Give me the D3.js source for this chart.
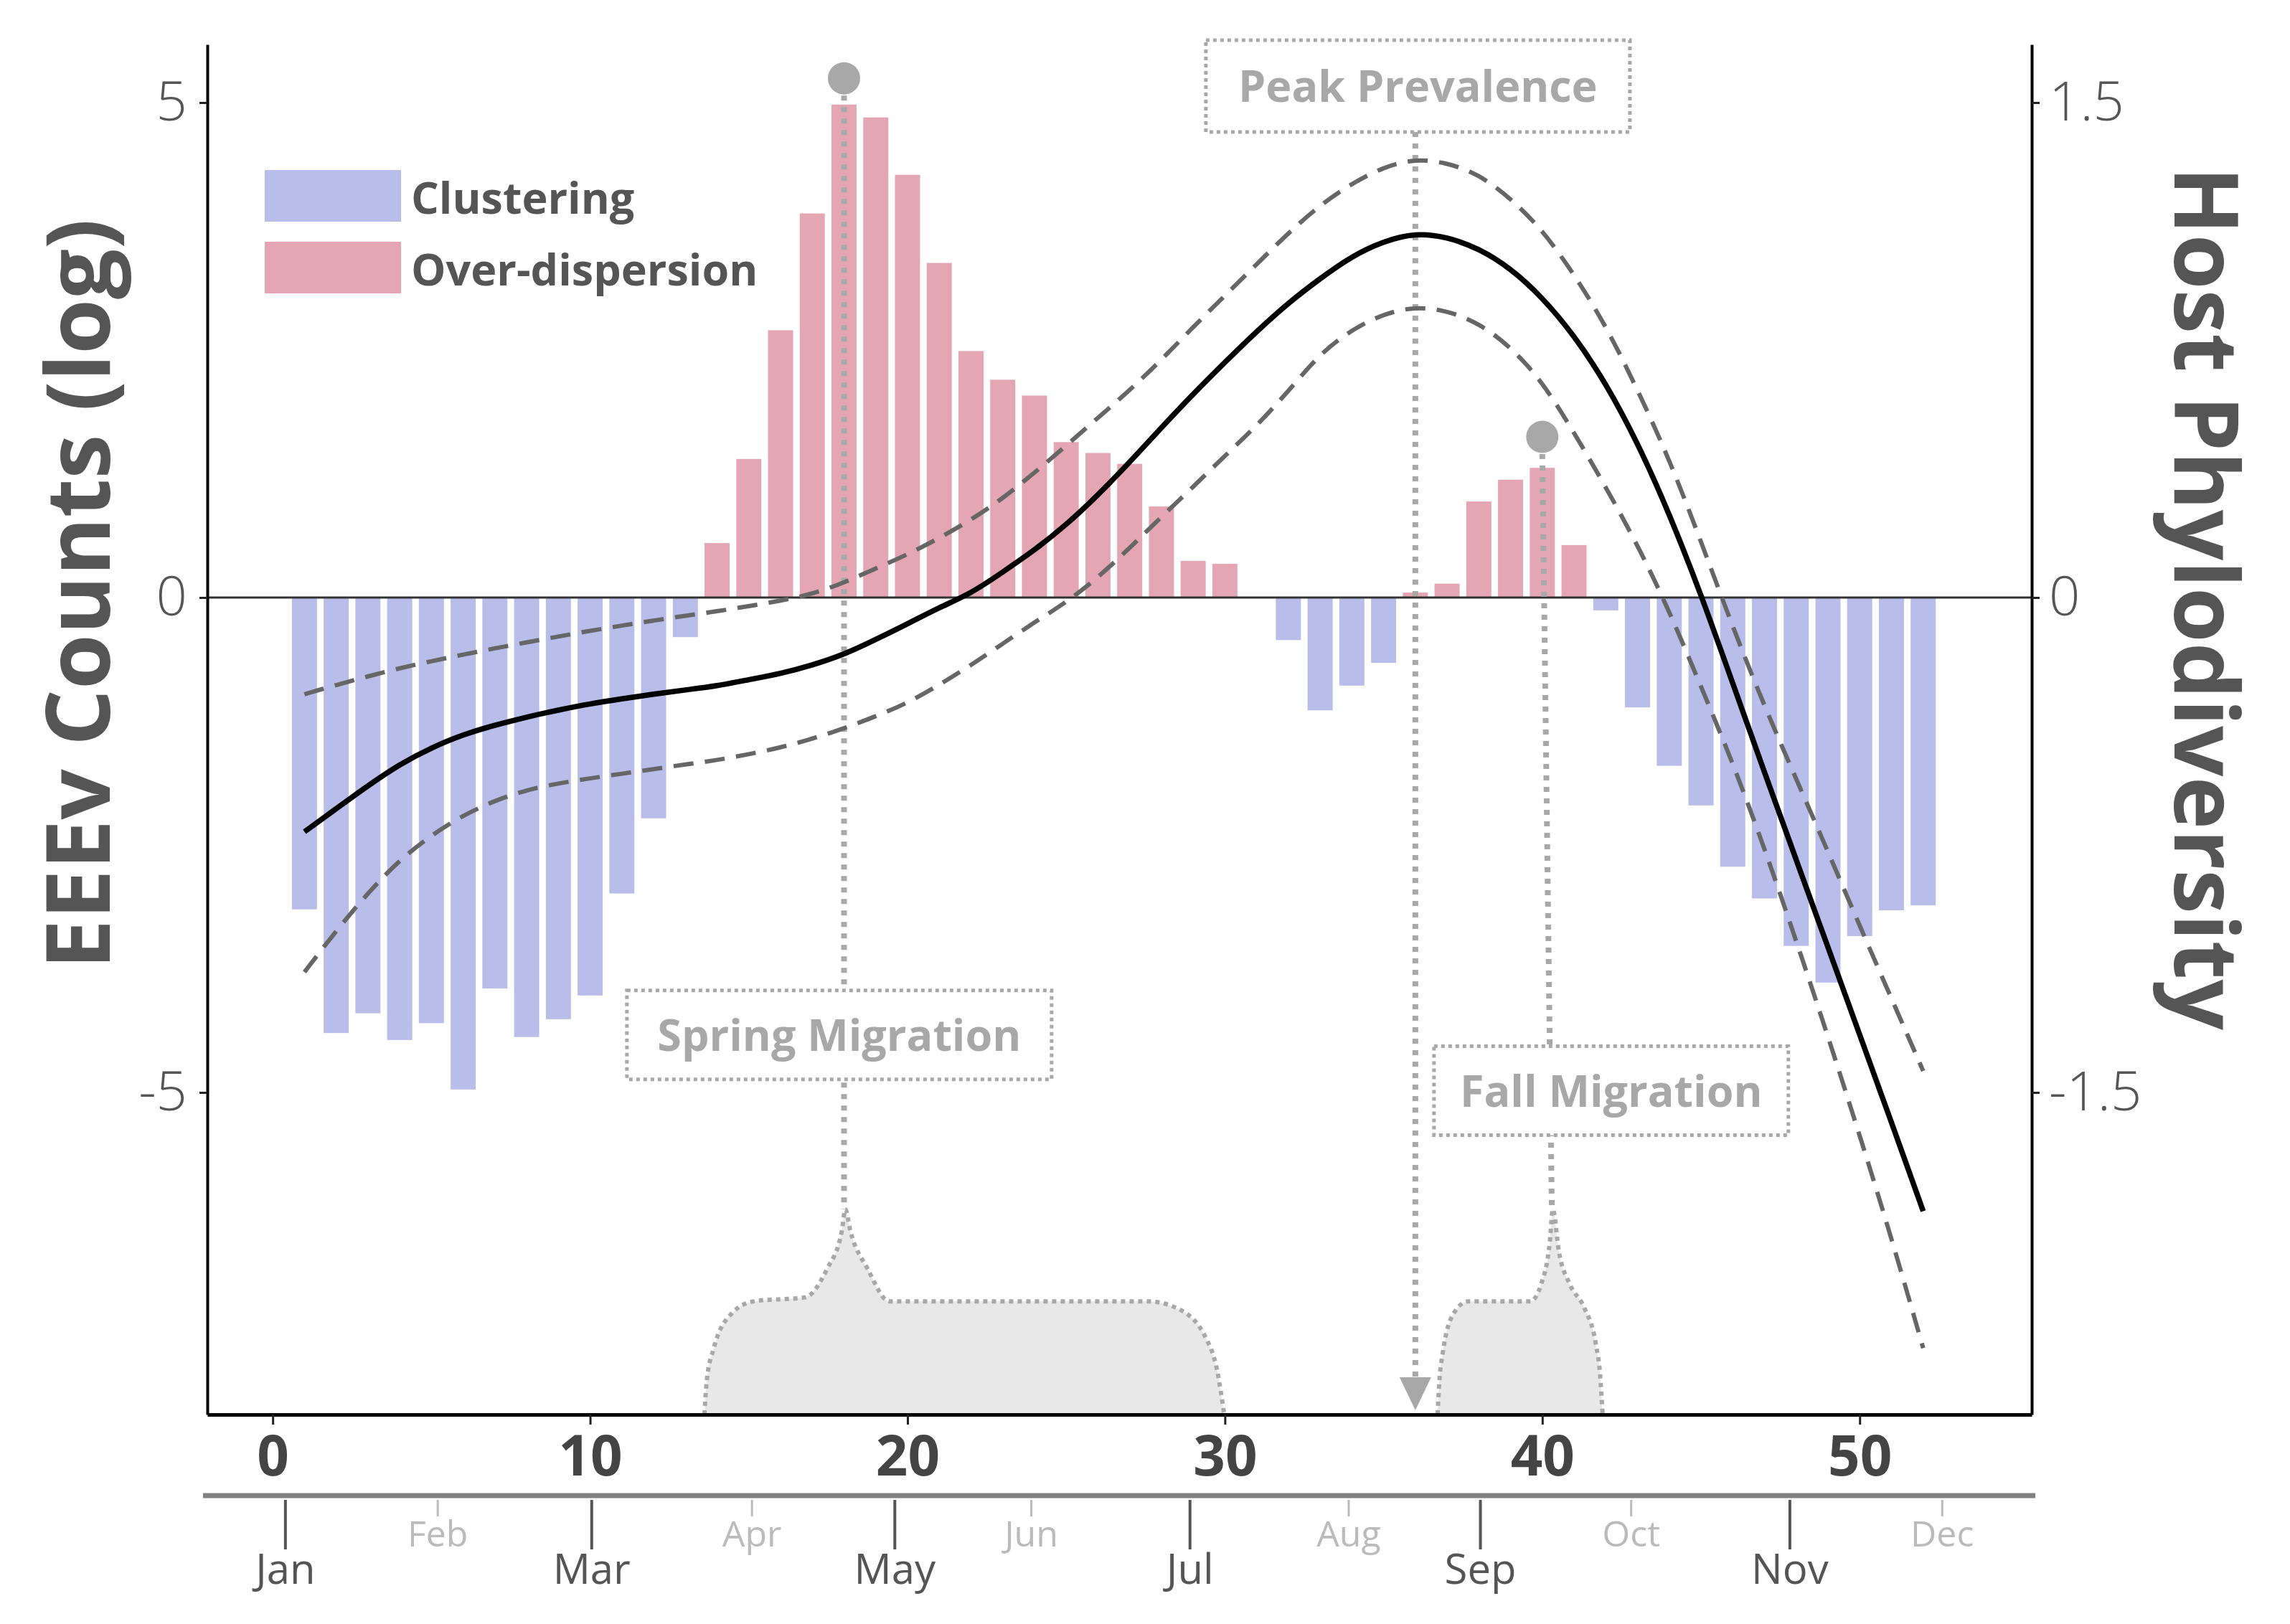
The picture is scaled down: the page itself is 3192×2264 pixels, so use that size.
<!DOCTYPE html>
<html>
<head>
<meta charset="utf-8">
<script src="https://cdnjs.cloudflare.com/ajax/libs/d3/7.8.5/d3.min.js"></script>
<style>
  body { margin: 0; background: #fff; }
  svg { display: block; }
</style>
</head>
<body>
<div id="chart"></div>
<script>
// ---- data ----
const weeks = [1,2,3,4,5,6,7,8,9,10,11,12,13,14,15,16,17,18,19,20,21,22,23,24,25,26,
               27,28,29,30,31,32,33,34,35,36,37,38,39,40,41,42,43,44,45,46,47,48,49,50,51,52]

// EEEv counts (log), negative = clustering, positive = over-dispersion
const counts = [-3.15,-4.4,-4.2,-4.47,-4.3,-4.97,-3.95,-4.44,-4.26,-4.02,
                -2.99,-2.23,-0.4,0.55,1.4,2.7,3.88,4.98,4.85,4.27,
                3.38,2.49,2.2,2.04,1.57,1.46,1.35,0.92,0.37,0.34,
                0,-0.43,-1.14,-0.89,-0.66,0.05,0.14,0.97,1.19,1.31,
                0.53,-0.13,-1.11,-1.7,-2.1,-2.72,-3.04,-3.52,-3.89,-3.42,
                -3.16,-3.11]

// host phylodiversity fit and its band (right axis)
const phyloFit = [-0.71,-0.64,-0.57,-0.505,-0.455,-0.415,-0.387,-0.362,-0.341,-0.322,
                  -0.307,-0.293,-0.28,-0.268,-0.249,-0.231,-0.205,-0.173,-0.127,-0.08,
                  -0.03,0.012,0.077,0.143,0.22,0.31,0.41,0.515,0.617,0.713,
                  0.807,0.893,0.967,1.035,1.08,1.105,1.093,1.058,0.998,0.91,
                  0.795,0.65,0.47,0.255,0.01,-0.26,-0.53,-0.795,-1.06,-1.325,
                  -1.59,-1.86]
const phyloUpper = [-0.293,-0.265,-0.239,-0.214,-0.193,-0.173,-0.154,-0.136,-0.118,-0.101,
                    -0.085,-0.07,-0.055,-0.042,-0.026,-0.01,0.01,0.045,0.088,0.13,
                    0.18,0.235,0.3,0.378,0.46,0.545,0.628,0.72,0.82,0.915,
                    1.01,1.105,1.19,1.255,1.305,1.33,1.318,1.283,1.21,1.115,
                    0.98,0.825,0.63,0.42,0.17,-0.09,-0.33,-0.55,-0.77,-0.995,
                    -1.215,-1.435]
const phyloLower = [-1.135,-1.01,-0.895,-0.795,-0.72,-0.66,-0.615,-0.583,-0.563,-0.548,
                    -0.534,-0.52,-0.506,-0.493,-0.475,-0.455,-0.428,-0.397,-0.36,-0.32,
                    -0.265,-0.205,-0.14,-0.075,-0.015,0.06,0.15,0.245,0.335,0.43,
                    0.52,0.625,0.74,0.812,0.86,0.882,0.87,0.832,0.76,0.655,
                    0.5,0.335,0.16,-0.04,-0.27,-0.5,-0.76,-1.04,-1.33,-1.63,
                    -1.94,-2.275]

const weekTicks = [0,10,20,30,40,50]
const leftTicks = [-5,0,5]
const rightTicks = [-1.5,0,1.5]
const months = ["Jan","Feb","Mar","Apr","May","Jun","Jul","Aug","Sep","Oct","Nov","Dec"]
const monthWeeks = [0.4,5.2,10.05,15.1,19.6,23.9,28.9,33.9,38.05,42.8,47.8,52.6]

// migration outlines, [week, log count]
const springBump = [[13.6,-8.254],[13.68,-7.9],[13.9,-7.58],[14.47,-7.23],[15.16,-7.11],
                    [16.77,-7.07],[17.47,-6.78],[17.93,-6.4],[18.04,-6.18],[18.2,-6.4],
                    [18.74,-6.78],[19.43,-7.11],[27.57,-7.11],[28.49,-7.18],[29.4,-7.48],
                    [29.75,-7.8],[29.98,-8.254]]
const fallBump = [[36.7,-8.254],[36.76,-7.9],[36.86,-7.64],[37.21,-7.23],[37.67,-7.11],
                  [39.62,-7.11],[39.96,-6.94],[40.24,-6.5],[40.33,-6.18],[40.53,-6.62],
                  [40.87,-6.94],[41.33,-7.18],[41.68,-7.53],[41.82,-7.85],[41.9,-8.254]]

const springPeak = 18, fallPeak = 40, prevalencePeak = 36

// ---- layout ----
const W = 3192, H = 2264
const blue = "#b9bde9", pink = "#e5a6b3", annot = "#a8a8a8"
const font = "'Open Sans', 'DejaVu Sans', sans-serif"

const x = d3.scaleLinear().domain([-2.06, 55.42]).range([289, 2832])
const y = d3.scaleLinear().domain([-8.254, 5.587]).range([1972, 62])
const yR = d3.scaleLinear().domain([-8.254 * 0.3, 5.587 * 0.3]).range([1972, 62])
const bw = (x(1) - x(0)) * 0.79

const svg = d3.select("#chart").append("svg")
    .attr("width", W)
    .attr("height", H)
    .style("background-color", "#fff")

// bars
const barData = weeks.map((w, i) => ({ w: w, v: counts[i] }))
svg.append("g").selectAll("rect")
    .data(barData)
    .enter()
    .append("rect")
    .attr("x", d => x(d.w) - bw / 2)
    .attr("width", bw)
    .attr("y", d => y(Math.max(0, d.v)))
    .attr("height", d => Math.abs(y(d.v) - y(0)))
    .attr("fill", d => d.v >= 0 ? pink : blue)

// zero line
svg.append("line")
    .attr("x1", x.range()[0]).attr("x2", x.range()[1])
    .attr("y1", y(0)).attr("y2", y(0))
    .attr("stroke", "#333").attr("stroke-width", 3)

// dotted guide lines
const dotted = (sel) => sel.attr("stroke", annot).attr("stroke-width", 8)
    .attr("stroke-dasharray", "7,9").attr("fill", "none")

svg.append("line")
    .attr("x1", x(springPeak)).attr("x2", x(springPeak))
    .attr("y1", y(5.245) + 24).attr("y2", y(-6.18))
    .call(dotted)
svg.append("line")
    .attr("x1", x(fallPeak)).attr("x2", x(40.3))
    .attr("y1", y(1.623) + 24).attr("y2", y(-6.18))
    .call(dotted)
svg.append("line")
    .attr("x1", x(prevalencePeak)).attr("x2", x(prevalencePeak))
    .attr("y1", 184).attr("y2", y(-8.254) - 50)
    .call(dotted)

// phylodiversity curves
const curve = d3.line()
    .x((d, i) => x(weeks[i]))
    .y(d => yR(d))
    .curve(d3.curveBasis)

svg.append("path").attr("d", curve(phyloUpper))
    .attr("fill", "none").attr("stroke", "#666").attr("stroke-width", 6)
    .attr("stroke-dasharray", "28,16")
svg.append("path").attr("d", curve(phyloLower))
    .attr("fill", "none").attr("stroke", "#666").attr("stroke-width", 6)
    .attr("stroke-dasharray", "28,16")
svg.append("path").attr("d", curve(phyloFit))
    .attr("fill", "none").attr("stroke", "#000").attr("stroke-width", 7.5)

// migration bumps
const bumpLine = d3.line()
    .x(d => x(d[0]))
    .y(d => y(d[1]))
    .curve(d3.curveMonotoneX)

;[springBump, fallBump].forEach(b => {
    svg.append("path").attr("d", bumpLine(b) + "Z")
        .attr("fill", "#e8e8e8").attr("stroke", "none")
    svg.append("path").attr("d", bumpLine(b))
        .attr("fill", "none").attr("stroke", annot).attr("stroke-width", 6)
        .attr("stroke-dasharray", "6,6")
})

// arrow for peak prevalence
const ax = x(prevalencePeak), ay = y(-8.254) - 6
svg.append("path")
    .attr("d", `M${ax - 22},${ay - 46}L${ax + 22},${ay - 46}L${ax},${ay}Z`)
    .attr("fill", annot)

// markers above the migration peaks
svg.append("circle").attr("cx", x(springPeak)).attr("cy", y(5.245)).attr("r", 22.5).attr("fill", annot)
svg.append("circle").attr("cx", x(fallPeak)).attr("cy", y(1.623)).attr("r", 22.5).attr("fill", annot)

// annotation boxes
const boxes = [
    { label: "Peak Prevalence", week: 36.08, v: 5.167, w: 591, h: 128 },
    { label: "Spring Migration", week: 17.85, v: -4.418, w: 592, h: 124 },
    { label: "Fall Migration", week: 42.17, v: -4.983, w: 494, h: 124 }
]
const boxG = svg.append("g").selectAll("g").data(boxes).enter().append("g")
boxG.append("rect")
    .attr("x", d => x(d.week) - d.w / 2)
    .attr("y", d => y(d.v) - d.h / 2)
    .attr("width", d => d.w)
    .attr("height", d => d.h)
    .attr("fill", "#fff")
    .attr("stroke", annot).attr("stroke-width", 5)
    .attr("stroke-dasharray", "5,5")
boxG.append("text")
    .attr("x", d => x(d.week))
    .attr("y", d => y(d.v) + 22)
    .attr("text-anchor", "middle")
    .style("font-family", font).style("font-weight", 700).style("font-size", "61px")
    .attr("fill", annot)
    .text(d => d.label)

// axes
const styleAxis = (g, size, weight, color) => {
    g.selectAll("text")
        .style("font-family", font)
        .style("font-size", size + "px")
        .style("font-weight", weight)
        .attr("fill", color)
    g.selectAll(".tick line").attr("stroke", "#222").attr("stroke-width", 3)
    g.select(".domain").attr("stroke", "#000").attr("stroke-width", 4)
}

svg.append("g")
    .attr("transform", `translate(${x.range()[0]},0)`)
    .call(d3.axisLeft(y).tickValues(leftTicks).tickSize(11).tickSizeOuter(0).tickPadding(17).tickFormat(d => String(d)))
    .call(g => styleAxis(g, 76, 300, "#555"))

svg.append("g")
    .attr("transform", `translate(${x.range()[1]},0)`)
    .call(d3.axisRight(yR).tickValues(rightTicks).tickSize(11).tickSizeOuter(0).tickPadding(13).tickFormat(d => String(d)))
    .call(g => styleAxis(g, 76, 300, "#555"))

svg.append("g")
    .attr("transform", `translate(0,${y.range()[0]})`)
    .call(d3.axisBottom(x).tickValues(weekTicks).tickSize(14).tickSizeOuter(0))
    .call(g => styleAxis(g, 78, 700, "#444"))
    .call(g => g.select(".domain").attr("stroke-width", 5))
    .call(g => g.selectAll("text").attr("dy", null).attr("y", 85))

// month strip
svg.append("line")
    .attr("x1", 283).attr("x2", 2837)
    .attr("y1", 2085).attr("y2", 2085)
    .attr("stroke", "#808080").attr("stroke-width", 7)

const monthData = months.map((m, i) => ({ m: m, w: monthWeeks[i], major: i % 2 === 0 }))
const mg = svg.append("g").selectAll("g").data(monthData).enter().append("g")
mg.append("line")
    .attr("x1", d => x(d.w)).attr("x2", d => x(d.w))
    .attr("y1", 2091).attr("y2", d => d.major ? 2160 : 2114)
    .attr("stroke", d => d.major ? "#555" : "#bbb")
    .attr("stroke-width", d => d.major ? 4 : 3)
mg.append("text")
    .attr("x", d => x(d.w))
    .attr("y", d => d.major ? 2208 : 2156)
    .attr("text-anchor", "middle")
    .style("font-family", font)
    .style("font-size", d => d.major ? "58px" : "50px")
    .attr("fill", d => d.major ? "#555" : "#bbb")
    .text(d => d.m)

// legend
const legendItems = [{ label: "Clustering", color: blue }, { label: "Over-dispersion", color: pink }]
const lg = svg.append("g").selectAll("g").data(legendItems).enter().append("g")
    .attr("transform", (d, i) => `translate(369,${237 + i * 100})`)
lg.append("rect").attr("width", 190).attr("height", 72).attr("fill", d => d.color)
lg.append("text")
    .attr("x", 204).attr("y", 61)
    .style("font-family", font).style("font-weight", 700).style("font-size", "61px")
    .attr("fill", "#555")
    .text(d => d.label)

// axis titles
svg.append("text")
    .attr("transform", "translate(153,828) rotate(-90)")
    .attr("text-anchor", "middle")
    .style("font-family", font).style("font-weight", 700).style("font-size", "124px")
    .attr("fill", "#555")
    .text("EEEv Counts (log)")

svg.append("text")
    .attr("transform", "translate(3031,834) rotate(90)")
    .attr("text-anchor", "middle")
    .style("font-family", font).style("font-weight", 700).style("font-size", "124px")
    .attr("fill", "#555")
    .text("Host Phylodiversity")
</script>
</body>
</html>
